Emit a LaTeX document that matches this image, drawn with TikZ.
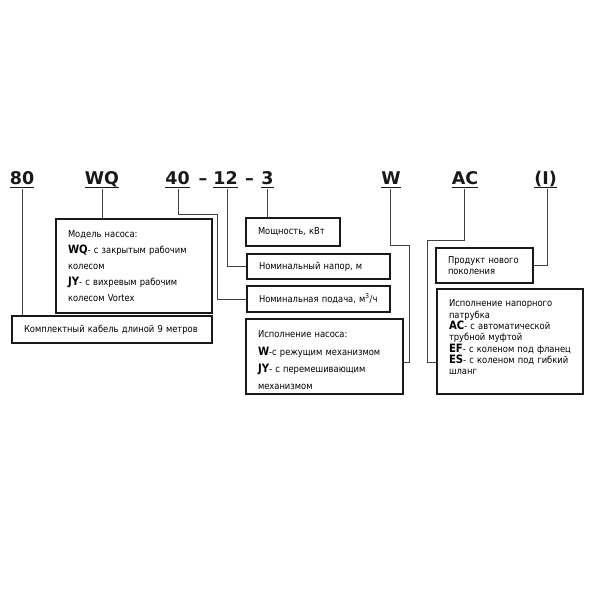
\documentclass[tikz,border=0pt]{standalone}
\usepackage{fontspec}
\setmainfont{DejaVu Sans}[FakeStretch=0.88]
\newfontfamily\hfont{DejaVu Sans}
\newcommand\lsk{\lineskiplimit=-100pt\relax}
\newcommand\bx[1]{\textbf{\fontsize{11.5}{11}\selectfont #1}}
\begin{document}
\begin{tikzpicture}[x=1pt,y=-1pt,
  hdr/.style={font=\hfont\fontsize{17.5}{20}\selectfont\bfseries, inner sep=0pt, anchor=base, text=black!90},
  uline/.style={line width=1.8pt, black!90},
  conn/.style={line width=0.9pt, black!75},
  box/.style={draw=black!90, line width=1.5pt, align=left, inner xsep=12pt, inner ysep=0pt, text=black}]
\useasboundingbox (0,0) rectangle (591,591);
% headers
\node[hdr] (h80) at (22,184) {80};
\node[hdr] (hWQ) at (102,184) {WQ};
\node[hdr] (h40) at (177.5,184) {40};
\node[hdr] (d1) at (203,184) {–};
\node[hdr] (h12) at (225.5,184) {12};
\node[hdr] (d2) at (249.5,184) {–};
\node[hdr] (h3) at (267.5,184) {3};
\node[hdr] (hW) at (391,184) {W};
\node[hdr] (hAC) at (465,184) {AC};
\node[hdr] (hI) at (545.5,184) {(I)};
\foreach \n in {h80,hWQ,h40,h12,h3,hW,hAC,hI}{
  \draw[uline] ([yshift=-3.5pt]\n.base west) -- ([yshift=-3.5pt]\n.base east);
}
% boxes
\node[box, minimum width=200pt, minimum height=27pt, text width=176pt,
  font=\fontsize{9.5}{12}\selectfont] (kabel) at (112,329.5)
  {\mbox{Комплектный кабель длиной 9 метров}};
\node[box, minimum width=156pt, minimum height=94pt, text width=132pt,
  font=\fontsize{9.5}{16}\selectfont\lsk] (model) at (134,266)
  {Модель насоса:\\ \mbox{\bx{WQ}- с закрытым рабочим}\\ колесом\\ \mbox{\bx{JY}- с вихревым рабочим}\\ колесом Vortex};
\node[box, minimum width=94pt, minimum height=28pt, text width=70pt,
  font=\fontsize{9.5}{12}\selectfont] (moshch) at (293,232)
  {\mbox{Мощность, кВт}};
\node[box, minimum width=143pt, minimum height=25pt, text width=119pt,
  font=\fontsize{9.5}{12}\selectfont] (napor) at (318.5,266.5)
  {\mbox{Номинальный напор, м}};
\node[box, minimum width=143pt, minimum height=26pt, text width=119pt,
  font=\fontsize{9.5}{12}\selectfont] (podacha) at (318.5,299)
  {\mbox{Номинальная подача, м\textsuperscript{3}/ч}};
\node[box, minimum width=157pt, minimum height=75pt, text width=133pt,
  font=\fontsize{9.5}{17.3}\selectfont\lsk] (isp) at (324.5,356.5)
  {\rule{0pt}{15pt}Исполнение насоса:\\ \mbox{\bx{W}-с режущим механизмом}\\ \mbox{\bx{JY}- с перемешивающим}\\ механизмом};
\node[box, minimum width=97pt, minimum height=35pt, text width=73pt,
  font=\fontsize{9.5}{11}\selectfont] (produkt) at (484.5,265.5)
  {\mbox{Продукт нового}\\ поколения};
\node[box, minimum width=146pt, minimum height=105pt, text width=122pt,
  font=\fontsize{9.5}{11.3}\selectfont\lsk] (patr) at (510,341.5)
  {\mbox{Исполнение напорного}\\ патрубка\\ \mbox{\bx{AC}- с автоматической}\\ трубной муфтой\\ \mbox{\bx{EF}- с коленом под фланец}\\ \mbox{\bx{ES}- с коленом под гибкий}\\ шланг\par\vspace*{8pt}};
% connector anchors
\coordinate (u80) at (22,189);
\coordinate (uWQ) at (102,189);
\coordinate (u40) at (178,189);
\coordinate (u12) at (227,189);
\coordinate (u3) at (267,189);
\coordinate (uW) at (390,189);
\coordinate (uAC) at (464,189);
\coordinate (uI) at (547,189);
\coordinate (wy) at (0,362);
% connectors
\draw[conn] (u80) -- (u80 |- kabel.north);
\draw[conn] (uWQ) -- (uWQ |- model.north);
\draw[conn] (u40) -- (178,214) -- (217,214) |- (podacha.west);
\draw[conn] (u12) |- (napor.west);
\draw[conn] (u3) -- (u3 |- moshch.north);
\draw[conn] (uW) -- (390,245) -- (409,245) -- (409,362) -- (isp.east |- wy);
\draw[conn] (uAC) -- (464,240) -- (427,240) -- (427,362) -- (patr.west |- wy);
\draw[conn] (uI) |- (produkt.east);
\end{tikzpicture}
\end{document}
